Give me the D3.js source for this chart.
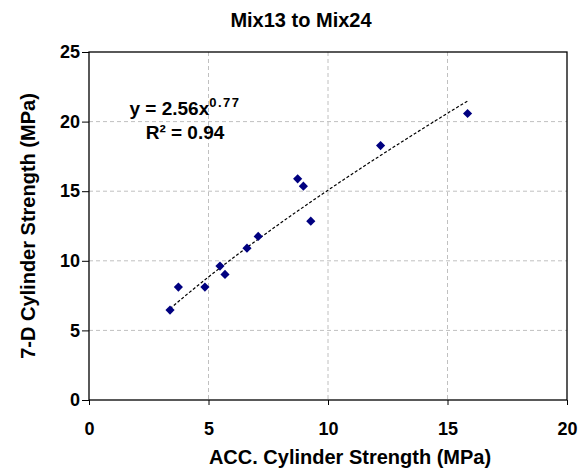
<!DOCTYPE html>
<html>
<head>
<meta charset="utf-8">
<script src="https://cdn.jsdelivr.net/npm/d3@7"></script>
<style>
  body { margin: 0; background: #fff; }
  text { font-family: "Liberation Sans", Arial, sans-serif; font-weight: bold; }
</style>
</head>
<body>
<div id="chart"></div>
<script>
// data
var accStrength = [3.39, 3.74, 4.85, 5.48, 5.69, 6.61, 7.08, 8.73, 8.97, 9.28, 12.2, 15.84];
var sevenDay    = [6.46, 8.11, 8.11, 9.62, 9.02, 10.91, 11.75, 15.89, 15.36, 12.85, 18.28, 20.58];
var xTicks = [0, 5, 10, 15, 20];
var yTicks = [0, 5, 10, 15, 20, 25];
var fitA = 2.56, fitB = 0.77;

var svgWidth = 584;
var svgHeight = 473;
var margin = { top: 52, right: 17, bottom: 73, left: 89 };
var width = svgWidth - margin.left - margin.right;
var height = svgHeight - margin.top - margin.bottom;

var svg = d3.select("#chart")
  .append("svg")
  .attr("width", svgWidth)
  .attr("height", svgHeight);

var chartGroup = svg.append("g")
  .attr("transform", `translate(${margin.left}, ${margin.top})`);

var x = d3.scaleLinear().domain([0, 20]).range([0, width]);
var y = d3.scaleLinear().domain([0, 25]).range([height, 0]);

// gridlines
chartGroup.append("g")
  .selectAll("line")
  .data(xTicks.slice(1, -1))
  .enter().append("line")
  .attr("x1", d => x(d)).attr("x2", d => x(d))
  .attr("y1", 0).attr("y2", height)
  .attr("stroke", "#c0c0c0").attr("stroke-dasharray", "4,3");

chartGroup.append("g")
  .selectAll("line")
  .data(yTicks.slice(1, -1))
  .enter().append("line")
  .attr("y1", d => y(d)).attr("y2", d => y(d))
  .attr("x1", 0).attr("x2", width)
  .attr("stroke", "#c0c0c0").attr("stroke-dasharray", "4,3");

// axes
var bottomAxis = d3.axisBottom(x).tickValues(xTicks).tickSizeInner(5).tickSizeOuter(0).tickPadding(17);
var leftAxis = d3.axisLeft(y).tickValues(yTicks).tickSizeInner(7).tickSizeOuter(0).tickPadding(2);

var gx = chartGroup.append("g")
  .attr("transform", `translate(0, ${height})`)
  .call(bottomAxis);
var gy = chartGroup.append("g").call(leftAxis);

[gx, gy].forEach(g => {
  g.attr("font-size", null).attr("font-family", null);
  g.select(".domain").remove();
  g.selectAll("line").attr("stroke", "#000");
  g.selectAll("text")
    .style("font-size", "18px")
    .attr("fill", "#000");
});

// frame
chartGroup.append("rect")
  .attr("width", width).attr("height", height)
  .attr("fill", "none").attr("stroke", "#000").attr("stroke-width", 1.3);

// power trendline
var lo = d3.min(accStrength), hi = d3.max(accStrength);
var xs = d3.range(49).map(i => lo + (hi - lo) * i / 48);
var line = d3.line()
  .x(d => x(d))
  .y(d => y(fitA * Math.pow(d, fitB)));
chartGroup.append("path")
  .datum(xs)
  .attr("d", line)
  .attr("fill", "none")
  .attr("stroke", "#000")
  .attr("stroke-width", 1.2)
  .attr("stroke-dasharray", "3,2");

// points
chartGroup.selectAll(".pt")
  .data(accStrength)
  .enter()
  .append("path")
  .attr("class", "pt")
  .attr("d", d3.symbol().type(d3.symbolSquare).size(42))
  .attr("transform", (d, i) => `translate(${x(d)}, ${y(sevenDay[i])}) rotate(45)`)
  .attr("fill", "#000080");

// equation
var eq = chartGroup.append("text")
  .attr("x", 96).attr("y", 63)
  .attr("text-anchor", "middle")
  .style("font-size", "19px");
eq.append("tspan").text("y = 2.56x");
eq.append("tspan").attr("dy", -8).style("font-size", "13px").attr("letter-spacing", "1.5").text("0.77");

chartGroup.append("text")
  .attr("x", 96).attr("y", 87)
  .attr("text-anchor", "middle")
  .style("font-size", "19px")
  .text("R² = 0.94");

// title and axis labels
svg.append("text")
  .attr("x", 301).attr("y", 27)
  .attr("text-anchor", "middle")
  .style("font-size", "20px")
  .text("Mix13 to Mix24");

svg.append("text")
  .attr("x", 350).attr("y", 464)
  .attr("text-anchor", "middle")
  .style("font-size", "20px")
  .text("ACC. Cylinder Strength (MPa)");

svg.append("text")
  .attr("transform", `translate(35, ${margin.top + height / 2}) rotate(-90)`)
  .attr("text-anchor", "middle")
  .style("font-size", "20px")
  .text("7-D Cylinder Strength (MPa)");
</script>
</body>
</html>
